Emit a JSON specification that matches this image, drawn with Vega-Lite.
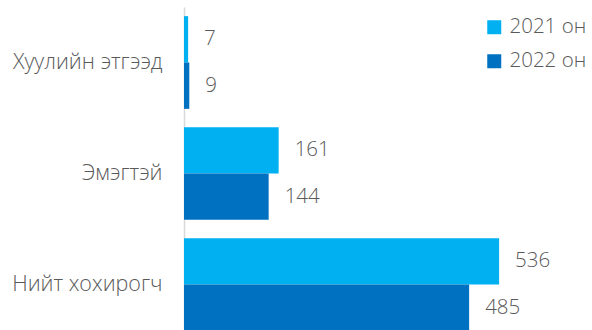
{
  "$schema": "https://vega.github.io/schema/vega-lite/v6.json",
  "width": 408,
  "height": 333,
  "autosize": {"type": "none"},
  "padding": {"left": 184, "top": 7, "right": 0, "bottom": 0},
  "config": {"view": {"stroke": null}, "font": "Open Sans"},
  "data": {"values": [
    {"category": "Хуулийн этгээд", "year": "2021 он", "value": 7},
    {"category": "Хуулийн этгээд", "year": "2022 он", "value": 9},
    {"category": "Эмэгтэй", "year": "2021 он", "value": 161},
    {"category": "Эмэгтэй", "year": "2022 он", "value": 144},
    {"category": "Нийт хохирогч", "year": "2021 он", "value": 536},
    {"category": "Нийт хохирогч", "year": "2022 он", "value": 485}
  ]},
  "encoding": {
    "y": {"field": "category", "type": "nominal", "sort": null,
      "scale": {"paddingInner": 0.165, "paddingOuter": 0.0825},
      "axis": {"title": null, "ticks": false, "domainColor": "#D9D9D9", "domainWidth": 1.5,
        "labelFontSize": 21.5, "labelFontWeight": 300, "labelColor": "#595959", "labelPadding": 22, "labelFont": "Open Sans"}},
    "yOffset": {"field": "year", "type": "nominal", "sort": null},
    "x": {"field": "value", "type": "quantitative", "scale": {"domain": [0, 694]}, "axis": null}
  },
  "layer": [
    {"mark": {"type": "bar"},
      "encoding": {"color": {"field": "year", "type": "nominal",
        "scale": {"domain": ["2021 он", "2022 он"], "range": ["#00B0F0", "#0070C0"]},
        "legend": {"title": null, "orient": "none", "legendX": 300, "legendY": 10,
          "symbolType": "square", "symbolSize": 196, "symbolStrokeWidth": 0,
          "labelFontSize": 20.5, "labelFontWeight": 300, "labelColor": "#595959", "rowPadding": 13, "labelOffset": 5}}}},
    {"mark": {"type": "text", "align": "left", "baseline": "middle", "dx": 16, "fontSize": 20.5, "fontWeight": 300, "color": "#595959"},
      "encoding": {"text": {"field": "value", "type": "quantitative"}}}
  ]
}
